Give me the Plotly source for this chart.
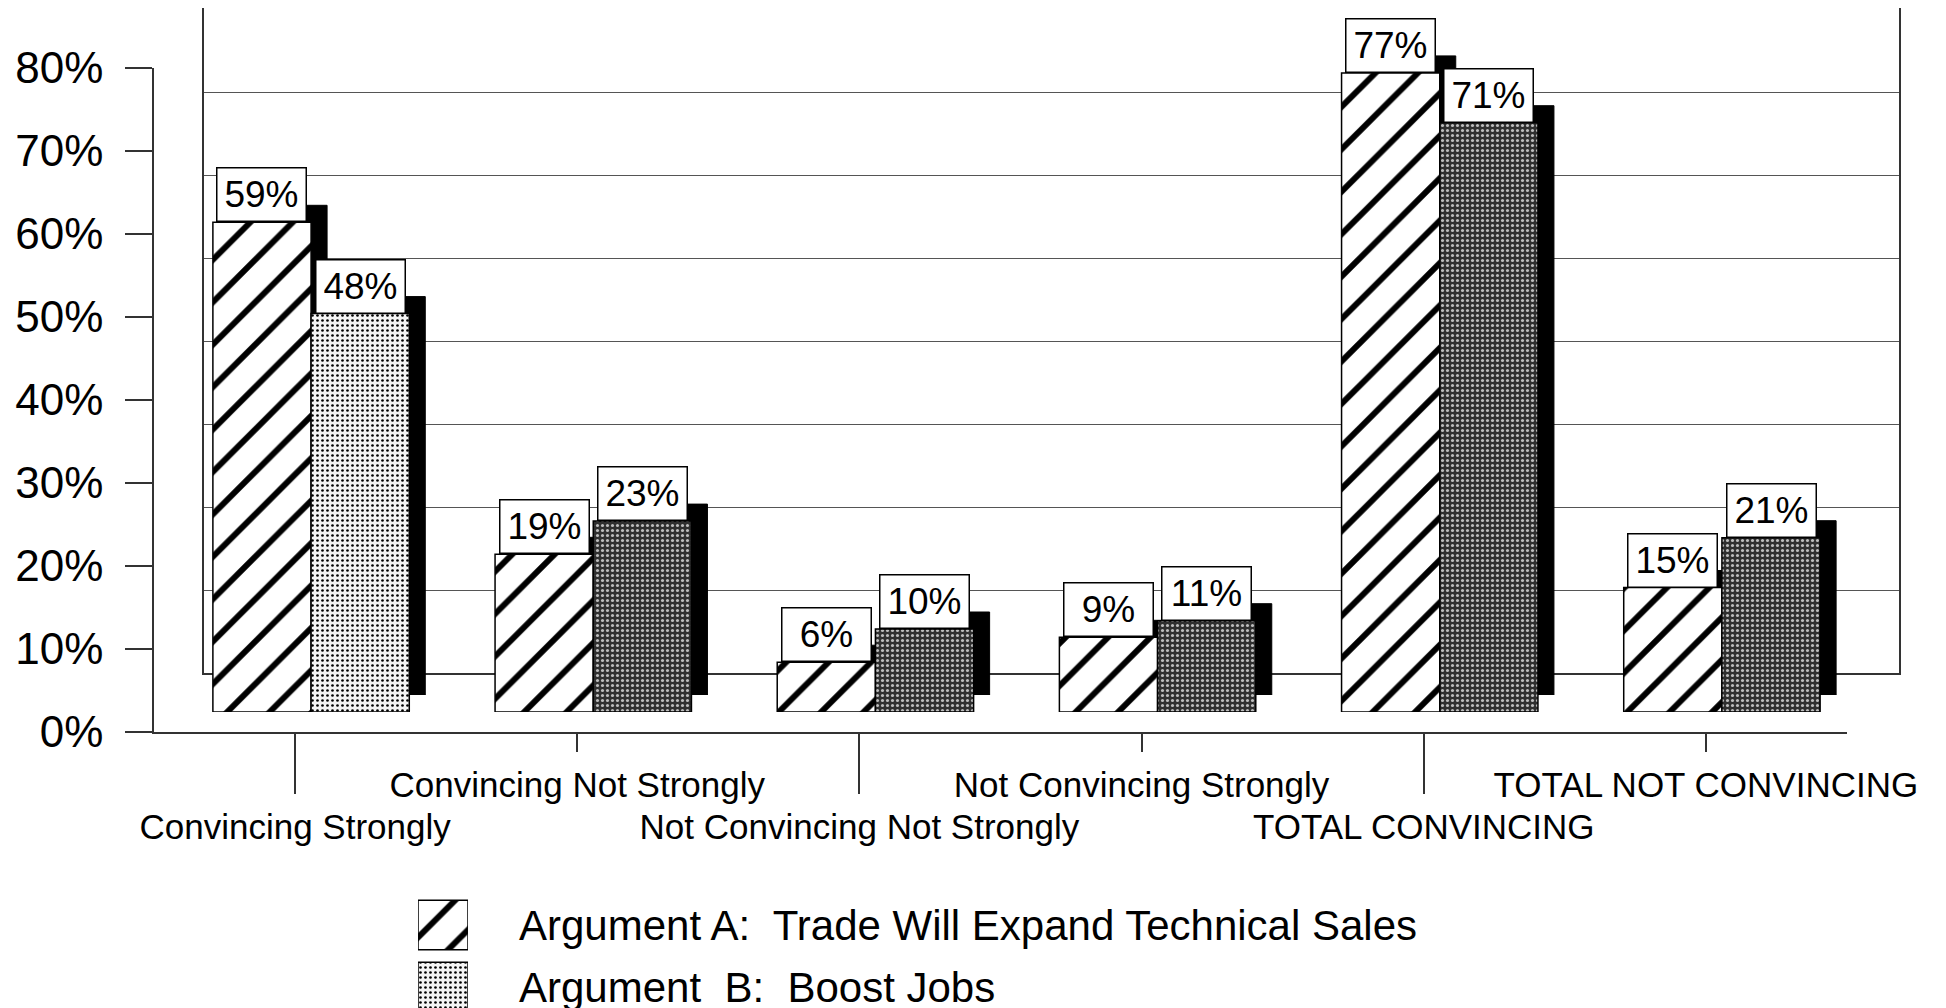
import plotly.graph_objects as go

# data
categories = [
    "Convincing Strongly",
    "Convincing Not Strongly",
    "Not Convincing Not Strongly",
    "Not Convincing Strongly",
    "TOTAL CONVINCING",
    "TOTAL NOT CONVINCING",
]
argument_a = [59, 19, 6, 9, 77, 15]
argument_b = [48, 23, 10, 11, 71, 21]
series_names = [
    "Argument A:\u00a0 Trade Will Expand Technical Sales",
    "Argument\u00a0 B:\u00a0 Boost Jobs",
]
y_ticks = [0, 10, 20, 30, 40, 50, 60, 70, 80]
y_tick_text = [f"{v}%" for v in y_ticks]

W, H = 1946, 1008
PAGE_MARGIN = 8  # default body margin of the html page
FONT = "Liberation Sans, Arial, sans-serif"
LINE = "#333333"
BARGAP = 0.304


def xd(left, right):
    return [(left - PAGE_MARGIN) / W, (right - PAGE_MARGIN) / W]


def yd(bottom, top):
    return [1 - (bottom - PAGE_MARGIN) / H, 1 - (top - PAGE_MARGIN) / H]


pos = list(range(len(categories)))
half = (1 - BARGAP) / 4
cat_range = [-0.5, len(categories) - 0.5]

# B fill: first bar is a light speckle, the rest dark
b_bg = ["#f4f4f4"] + ["#2f2f2f"] * 5
b_fg = ["#000000"] + ["#bdbdbd"] * 5
b_solid = [0.22] + [0.3] * 5
hatch = dict(shape="/", fgcolor="black", bgcolor="white", size=30, solidity=0.2)

fig = go.Figure()

# back wall (gridlines only)
fig.add_trace(go.Scatter(x=[], y=[], xaxis="x", yaxis="y", showlegend=False))

# black side/shadow of each bar, shifted up and right
for vals in (argument_a, argument_b):
    fig.add_trace(go.Bar(
        x=pos, y=vals, xaxis="x2", yaxis="y2", showlegend=False, hoverinfo="skip",
        marker=dict(color="black", line=dict(color="black", width=1)),
    ))

# front faces
fig.add_trace(go.Bar(
    x=pos, y=argument_a, name=series_names[0], xaxis="x3", yaxis="y3", showlegend=False,
    marker=dict(color="white", line=dict(color="black", width=1.5), pattern=hatch),
))
fig.add_trace(go.Bar(
    x=pos, y=argument_b, name=series_names[1], xaxis="x3", yaxis="y3", showlegend=False,
    marker=dict(color="#2f2f2f", line=dict(color="black", width=1.5),
                pattern=dict(shape=".", fgcolor=b_fg, bgcolor=b_bg, size=5, solidity=b_solid)),
))

# front axes (ticks and labels)
fig.add_trace(go.Scatter(x=[], y=[], xaxis="x4", yaxis="y4", showlegend=False))
fig.add_trace(go.Scatter(x=[], y=[], xaxis="x5", yaxis="y4", showlegend=False))

# legend drawn as its own little subplot so the swatches can be large
fig.add_trace(go.Bar(
    x=[1, 1], y=series_names, orientation="h", width=0.8, xaxis="x6", yaxis="y6",
    showlegend=False, hoverinfo="skip",
    marker=dict(color="white", line=dict(color="black", width=1.5),
                pattern=dict(shape=["/", "."], fgcolor=["black", "#000000"],
                             bgcolor=["white", "#f4f4f4"], size=[30, 5], solidity=[0.2, 0.22])),
))

hidden = dict(visible=False, showgrid=False, zeroline=False, automargin=False)

annotations = []
for vals, sign in ((argument_a, -1), (argument_b, 1)):
    for i, v in zip(pos, vals):
        annotations.append(dict(
            x=i + sign * half, y=v, xref="x3", yref="y3", text=f"{v}%",
            showarrow=False, xanchor="center", yanchor="bottom",
            font=dict(size=37, color="black", family=FONT),
            bgcolor="white", bordercolor="black", borderwidth=1.5, borderpad=5,
            width=78, height=42,
        ))

fig.update_layout(
    template="none",
    width=W, height=H,
    margin=dict(l=0, r=0, t=0, b=0, pad=0),
    paper_bgcolor="white", plot_bgcolor="rgba(0,0,0,0)",
    font=dict(family=FONT, color="black"),
    barmode="group", bargap=BARGAP, bargroupgap=0,
    showlegend=False,
    annotations=annotations,
    xaxis=dict(domain=xd(204, 1899), range=cat_range, anchor="y", showgrid=False, zeroline=False,
               showticklabels=False, ticks="", showline=True, linecolor=LINE, linewidth=1.5,
               automargin=False),
    yaxis=dict(domain=yd(673, 8), range=[0, 80.12], tickvals=y_ticks, anchor="x", showgrid=True,
               gridcolor="#555555", gridwidth=1, zeroline=False, showticklabels=False, ticks="",
               showline=True, mirror=True, linecolor=LINE, linewidth=1.5, automargin=False),
    xaxis2=dict(domain=xd(186, 1879), range=cat_range, anchor="y2", **hidden),
    yaxis2=dict(domain=yd(695, 31), range=[0, 80], anchor="x2", **hidden),
    xaxis3=dict(domain=xd(170, 1863), range=cat_range, anchor="y3", **hidden),
    yaxis3=dict(domain=yd(712, 48), range=[0, 80], anchor="x3", **hidden),
    xaxis4=dict(domain=xd(154, 1847), range=cat_range, anchor="y4", showgrid=False, zeroline=False,
                tickvals=pos[0::2], ticktext=categories[0::2], ticks="outside", ticklen=60,
                tickwidth=1.5, tickcolor=LINE, showline=True, linecolor=LINE, linewidth=1.5,
                tickfont=dict(size=35), ticklabelstandoff=3, automargin=False),
    xaxis5=dict(overlaying="x4", range=cat_range, anchor="y4", showgrid=False, zeroline=False,
                tickvals=pos[1::2], ticktext=categories[1::2], ticks="outside", ticklen=19,
                tickwidth=1.5, tickcolor=LINE, showline=False, tickfont=dict(size=35),
                ticklabelstandoff=3, automargin=False),
    yaxis4=dict(domain=yd(732, 68), range=[0, 80], anchor="x4", showgrid=False, zeroline=False,
                tickvals=y_ticks, ticktext=y_tick_text, ticks="outside", ticklen=27,
                tickwidth=1.5, tickcolor=LINE, showline=True, linecolor=LINE, linewidth=1.5,
                tickfont=dict(size=44), ticklabelstandoff=13, automargin=False),
    xaxis6=dict(domain=xd(418, 468), range=[0, 1], anchor="y6", **hidden),
    yaxis6=dict(domain=yd(1008, 895), type="category", range=[1.339, -0.484], anchor="x6",
                side="right", showgrid=False, zeroline=False, showline=False, ticks="",
                tickfont=dict(size=42), ticklabelstandoff=50, automargin=False),
)

fig.write_html("out.html")
